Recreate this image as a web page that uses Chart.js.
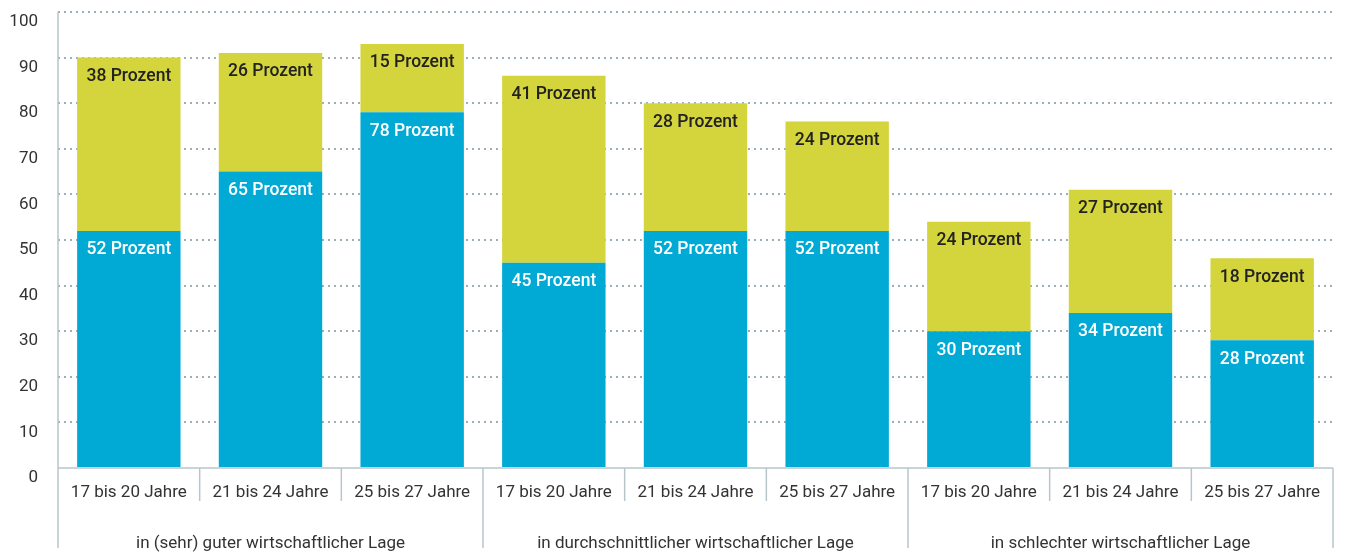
<!DOCTYPE html>
<html>
<head>
<meta charset="utf-8">
<script src="https://cdn.jsdelivr.net/npm/chart.js@4"></script>
<style>
  html, body { margin: 0; padding: 0; background: #fff; }
  #wrap { width: 1352px; height: 554px; }
</style>
</head>
<body>
<div id="wrap"><canvas id="chart"></canvas></div>
<script>
// Altersgruppen (untere Beschriftung) und Gruppen (zweite Zeile)
const ageLabels = ['17 bis 20 Jahre', '21 bis 24 Jahre', '25 bis 27 Jahre',
                   '17 bis 20 Jahre', '21 bis 24 Jahre', '25 bis 27 Jahre',
                   '17 bis 20 Jahre', '21 bis 24 Jahre', '25 bis 27 Jahre'];
const groupLabels = ['in (sehr) guter wirtschaftlicher Lage',
                     'in durchschnittlicher wirtschaftlicher Lage',
                     'in schlechter wirtschaftlicher Lage'];
const groupSize = 3;

// Werte (Prozent)
const blueValues = [52, 65, 78, 45, 52, 52, 30, 34, 28];
const yellowValues = [38, 26, 15, 41, 28, 24, 24, 27, 18];

const yTicks = [0, 10, 20, 30, 40, 50, 60, 70, 80, 90, 100];

const FONT = 'Roboto, "DejaVu Sans", sans-serif';
const LINE = '#b7c6cd';

// Beschriftung oben im Balkensegment
const barLabels = {
  id: 'barLabels',
  afterDatasetsDraw(chart) {
    const ctx = chart.ctx;
    ctx.save();
    ctx.font = '500 17.5px ' + FONT;
    ctx.textAlign = 'center';
    ctx.textBaseline = 'middle';
    chart.data.datasets.forEach((ds, i) => {
      const meta = chart.getDatasetMeta(i);
      meta.data.forEach((bar, j) => {
        ctx.fillStyle = ds.labelColor;
        ctx.fillText(ds.data[j] + ' Prozent', bar.x, bar.y + 19);
      });
    });
    ctx.restore();
  }
};

// Achsenlinien, Trennstriche und Gruppenbeschriftung
const axisDeco = {
  id: 'axisDeco',
  afterDraw(chart) {
    const ctx = chart.ctx;
    const x = chart.scales.x;
    const area = chart.chartArea;
    const step = x.getPixelForValue(1) - x.getPixelForValue(0);
    ctx.save();
    ctx.strokeStyle = LINE;
    ctx.lineWidth = 1.5;
    // y-Achse
    ctx.beginPath();
    ctx.moveTo(area.left, area.top);
    ctx.lineTo(area.left, area.bottom + 80);
    ctx.stroke();
    // x-Achse
    ctx.beginPath();
    ctx.moveTo(area.left, area.bottom);
    ctx.lineTo(area.right, area.bottom);
    ctx.stroke();
    // Trennstriche
    for (let i = 1; i <= ageLabels.length; i++) {
      const px = x.getPixelForValue(i - 1) + step / 2;
      const isGroup = i % groupSize === 0;
      ctx.beginPath();
      ctx.moveTo(px, area.bottom);
      ctx.lineTo(px, area.bottom + (isGroup ? 80 : 33));
      ctx.stroke();
    }
    // Gruppenbeschriftung
    ctx.fillStyle = '#333';
    ctx.font = '17px ' + FONT;
    ctx.textAlign = 'center';
    ctx.textBaseline = 'middle';
    groupLabels.forEach((g, k) => {
      const cx = (x.getPixelForValue(k * groupSize) + x.getPixelForValue(k * groupSize + groupSize - 1)) / 2;
      ctx.fillText(g, cx, area.bottom + 76);
    });
    ctx.restore();
  }
};

new Chart(document.getElementById('chart'), {
  type: 'bar',
  data: {
    labels: ageLabels,
    datasets: [
      { data: blueValues, backgroundColor: '#00aad4', labelColor: '#ffffff',
        categoryPercentage: 1, barPercentage: 0.73 },
      { data: yellowValues, backgroundColor: '#d4d43c', labelColor: '#222222',
        categoryPercentage: 1, barPercentage: 0.73 }
    ]
  },
  options: {
    responsive: true,
    maintainAspectRatio: false,
    animation: false,
    layout: { padding: { top: 12, right: 19, bottom: 0, left: 0 } },
    plugins: { legend: { display: false }, tooltip: { enabled: false } },
    scales: {
      x: {
        stacked: true,
        grid: { display: false, drawTicks: false },
        border: { display: false },
        ticks: { color: '#333', font: { family: FONT, size: 17 }, padding: 15, maxRotation: 0 },
        afterFit(scale) { scale.height = 86; scale.paddingLeft = 0; scale.paddingRight = 0; }
      },
      y: {
        stacked: true,
        min: 0, max: 100,
        afterBuildTicks(scale) { scale.ticks = yTicks.map(v => ({ value: v })); },
        grid: {
          drawTicks: false,
          color: ctx => ctx.tick && ctx.tick.value === 0 ? 'rgba(0,0,0,0)' : '#9aafb8',
          lineWidth: 2
        },
        border: { display: false, dash: [2, 4] },
        ticks: { color: '#333', font: { family: FONT, size: 17 }, padding: 20, labelOffset: 10 },
        afterFit(scale) { scale.width = 58; scale.paddingTop = 0; scale.paddingBottom = 0; }
      }
    }
  },
  plugins: [barLabels, axisDeco]
});
</script>
</body>
</html>
